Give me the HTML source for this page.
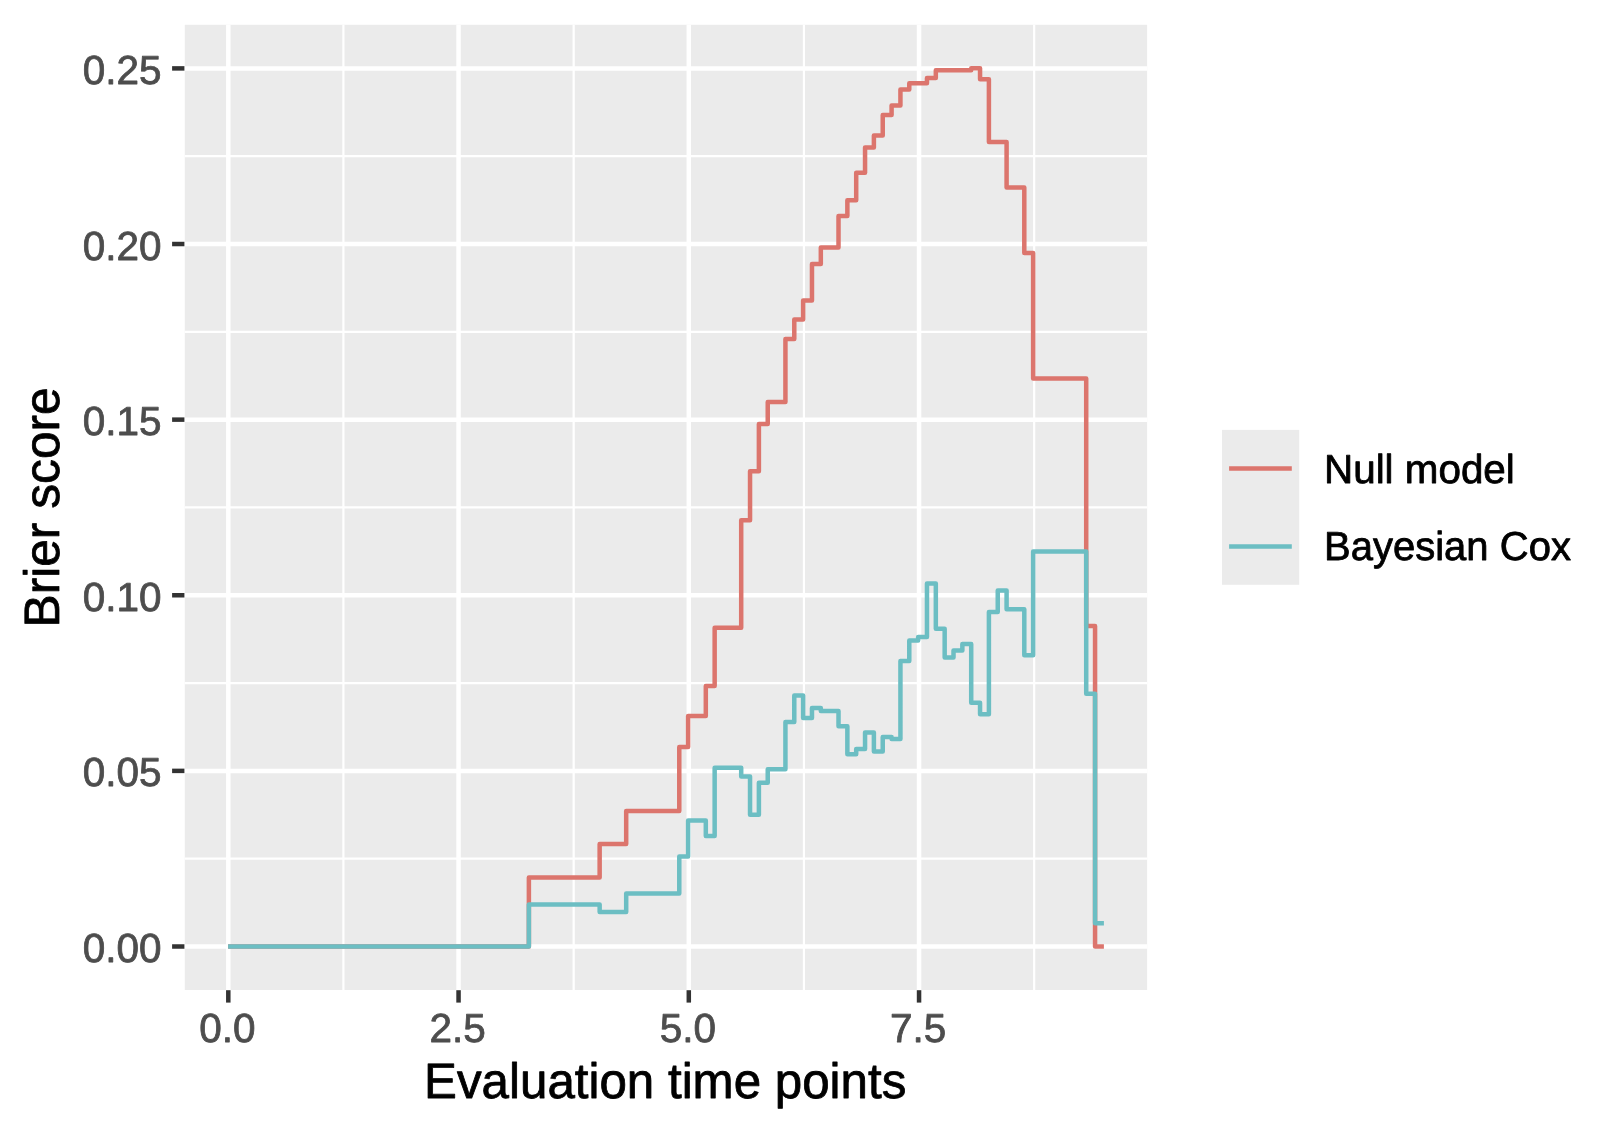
<!DOCTYPE html>
<html><head><meta charset="utf-8"><title>Brier score</title>
<style>html,body{margin:0;padding:0;background:#fff;}svg{display:block;will-change:transform;}text{font-family:"Liberation Sans",Arial,Helvetica,sans-serif;text-rendering:geometricPrecision;}</style></head><body>
<svg width="1620" height="1134" viewBox="0 0 1620 1134">
<rect x="0" y="0" width="1620" height="1134" fill="#FFFFFF"/>
<rect x="184.80" y="24.80" width="962.30" height="965.20" fill="#EBEBEB"/>
<g stroke="#FFFFFF" stroke-width="2.2" fill="none">
<line x1="184.80" y1="858.69" x2="1147.10" y2="858.69"/>
<line x1="184.80" y1="683.07" x2="1147.10" y2="683.07"/>
<line x1="184.80" y1="507.45" x2="1147.10" y2="507.45"/>
<line x1="184.80" y1="331.83" x2="1147.10" y2="331.83"/>
<line x1="184.80" y1="156.21" x2="1147.10" y2="156.21"/>
<line x1="343.43" y1="24.80" x2="343.43" y2="990.00"/>
<line x1="573.67" y1="24.80" x2="573.67" y2="990.00"/>
<line x1="803.92" y1="24.80" x2="803.92" y2="990.00"/>
<line x1="1034.17" y1="24.80" x2="1034.17" y2="990.00"/>
</g>
<g stroke="#FFFFFF" stroke-width="4.5" fill="none">
<line x1="184.80" y1="946.50" x2="1147.10" y2="946.50"/>
<line x1="184.80" y1="770.88" x2="1147.10" y2="770.88"/>
<line x1="184.80" y1="595.26" x2="1147.10" y2="595.26"/>
<line x1="184.80" y1="419.64" x2="1147.10" y2="419.64"/>
<line x1="184.80" y1="244.02" x2="1147.10" y2="244.02"/>
<line x1="184.80" y1="68.40" x2="1147.10" y2="68.40"/>
<line x1="228.30" y1="24.80" x2="228.30" y2="990.00"/>
<line x1="458.55" y1="24.80" x2="458.55" y2="990.00"/>
<line x1="688.80" y1="24.80" x2="688.80" y2="990.00"/>
<line x1="919.05" y1="24.80" x2="919.05" y2="990.00"/>
</g>
<g fill="none" stroke-width="4.5" stroke-linejoin="round" stroke-linecap="butt">
<polyline stroke="#DC756D" points="228.10,946.50 528.88,946.50 528.88,877.60 599.65,877.60 599.65,844.10 626.19,844.10 626.19,811.10 679.27,811.10 679.27,747.00 688.12,747.00 688.12,716.10 705.81,716.10 705.81,686.00 714.66,686.00 714.66,627.80 741.20,627.80 741.20,520.30 750.04,520.30 750.04,471.30 758.89,471.30 758.89,424.00 767.74,424.00 767.74,402.00 785.43,402.00 785.43,339.10 794.28,339.10 794.28,319.40 803.12,319.40 803.12,300.50 811.97,300.50 811.97,264.00 820.82,264.00 820.82,247.40 838.51,247.40 838.51,216.00 847.36,216.00 847.36,200.30 856.20,200.30 856.20,172.80 865.05,172.80 865.05,147.40 873.89,147.40 873.89,135.40 882.74,135.40 882.74,115.00 891.59,115.00 891.59,105.50 900.43,105.50 900.43,89.60 909.28,89.60 909.28,83.20 926.97,83.20 926.97,77.90 935.82,77.90 935.82,70.20 971.21,70.20 971.21,68.30 980.05,68.30 980.05,79.30 988.90,79.30 988.90,141.90 1006.59,141.90 1006.59,187.50 1024.29,187.50 1024.29,252.90 1033.13,252.90 1033.13,378.60 1086.21,378.60 1086.21,626.00 1095.06,626.00 1095.06,946.50 1103.90,946.50"/>
<polyline stroke="#6CBEC3" points="228.10,946.50 528.88,946.50 528.88,904.60 599.65,904.60 599.65,912.00 626.19,912.00 626.19,893.50 679.27,893.50 679.27,856.50 688.12,856.50 688.12,820.40 705.81,820.40 705.81,835.90 714.66,835.90 714.66,767.80 741.20,767.80 741.20,776.40 750.04,776.40 750.04,814.70 758.89,814.70 758.89,782.70 767.74,782.70 767.74,769.20 785.43,769.20 785.43,721.90 794.28,721.90 794.28,695.50 803.12,695.50 803.12,718.10 811.97,718.10 811.97,708.00 820.82,708.00 820.82,711.10 838.51,711.10 838.51,726.20 847.36,726.20 847.36,754.20 856.20,754.20 856.20,748.90 865.05,748.90 865.05,732.40 873.89,732.40 873.89,751.60 882.74,751.60 882.74,737.00 891.59,737.00 891.59,739.00 900.43,739.00 900.43,660.90 909.28,660.90 909.28,640.40 918.13,640.40 918.13,637.00 926.97,637.00 926.97,583.40 935.82,583.40 935.82,628.80 944.67,628.80 944.67,657.50 953.51,657.50 953.51,650.40 962.36,650.40 962.36,644.10 971.21,644.10 971.21,702.80 980.05,702.80 980.05,714.20 988.90,714.20 988.90,612.00 997.75,612.00 997.75,590.50 1006.59,590.50 1006.59,609.30 1024.29,609.30 1024.29,655.30 1033.13,655.30 1033.13,551.60 1086.21,551.60 1086.21,693.80 1095.06,693.80 1095.06,923.20 1103.90,923.20"/>
</g>
<g stroke="#333333" stroke-width="4.5">
<line x1="172.1" y1="946.50" x2="184.4" y2="946.50"/>
<line x1="172.1" y1="770.88" x2="184.4" y2="770.88"/>
<line x1="172.1" y1="595.26" x2="184.4" y2="595.26"/>
<line x1="172.1" y1="419.64" x2="184.4" y2="419.64"/>
<line x1="172.1" y1="244.02" x2="184.4" y2="244.02"/>
<line x1="172.1" y1="68.40" x2="184.4" y2="68.40"/>
<line x1="228.30" y1="990.20" x2="228.30" y2="1002.6"/>
<line x1="458.55" y1="990.20" x2="458.55" y2="1002.6"/>
<line x1="688.80" y1="990.20" x2="688.80" y2="1002.6"/>
<line x1="919.05" y1="990.20" x2="919.05" y2="1002.6"/>
</g>
<g fill="#4D4D4D" stroke="#4D4D4D" stroke-width="0.8" stroke-linejoin="round" font-size="40.5">
<text x="161.50" y="962.00" text-anchor="end">0.00</text>
<text x="161.50" y="786.38" text-anchor="end">0.05</text>
<text x="161.50" y="610.76" text-anchor="end">0.10</text>
<text x="161.50" y="435.14" text-anchor="end">0.15</text>
<text x="161.50" y="259.52" text-anchor="end">0.20</text>
<text x="161.50" y="83.90" text-anchor="end">0.25</text>
<text x="227.30" y="1042.10" text-anchor="middle">0.0</text>
<text x="457.55" y="1042.10" text-anchor="middle">2.5</text>
<text x="687.80" y="1042.10" text-anchor="middle">5.0</text>
<text x="918.05" y="1042.10" text-anchor="middle">7.5</text>
</g>
<text transform="translate(665.20,1097.70) scale(1,1.0)" x="0" y="0" text-anchor="middle" textLength="482.2" lengthAdjust="spacingAndGlyphs" font-size="49.7" fill="#000000" stroke="#000000" stroke-width="0.8" stroke-linejoin="round">Evaluation time points</text>
<text transform="translate(58.96,507.40) rotate(-90) scale(1,1.0)" x="0" y="0" text-anchor="middle" font-size="49.7" fill="#000000" stroke="#000000" stroke-width="0.8" stroke-linejoin="round">Brier score</text>
<rect x="1222.00" y="429.90" width="77.20" height="154.90" fill="#EBEBEB"/>
<line x1="1229.1" y1="468.45" x2="1291.8" y2="468.45" stroke="#DC756D" stroke-width="4.5"/>
<text transform="translate(1324.00,482.75) scale(1,1.0)" x="0" y="0" textLength="190.8" lengthAdjust="spacingAndGlyphs" font-size="40.4" fill="#000000" stroke="#000000" stroke-width="0.8" stroke-linejoin="round">Null model</text>
<line x1="1229.1" y1="546.45" x2="1291.8" y2="546.45" stroke="#6CBEC3" stroke-width="4.5"/>
<text transform="translate(1324.00,559.60) scale(1,1.0)" x="0" y="0" textLength="246.9" lengthAdjust="spacingAndGlyphs" font-size="40.4" fill="#000000" stroke="#000000" stroke-width="0.8" stroke-linejoin="round">Bayesian Cox</text>
</svg>
</body></html>
